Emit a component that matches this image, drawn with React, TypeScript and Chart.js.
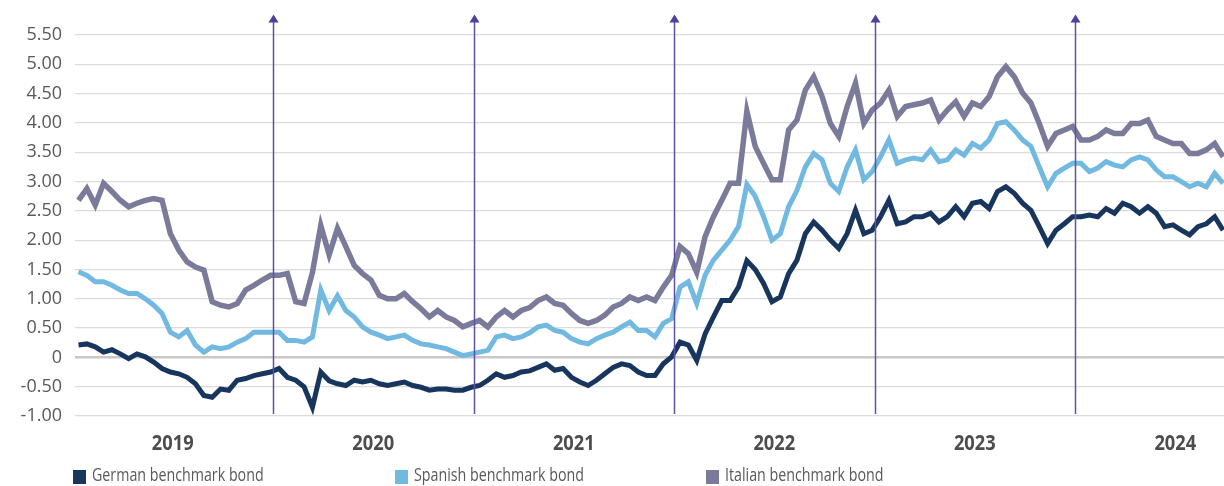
import React, { useEffect, useRef } from 'react';
import { Chart, registerables } from 'chart.js';

Chart.register(...registerables);

// Sampling: semi-monthly observations starting mid-January 2019 (decimal years)
const START_YEAR = 2019.03;
const STEP_YEARS = 1 / 24;
const X_MIN = 2019.0125;
const X_MAX = 2024.743;

const YEAR_LABELS = [2019, 2020, 2021, 2022, 2023, 2024];
const MARKER_YEARS = [2020, 2021, 2022, 2023, 2024];

const SERIES_NAMES = ['German benchmark bond', 'Spanish benchmark bond', 'Italian benchmark bond'];
const SERIES_COLORS = ['#18355e', '#72b9e1', '#7a7b9b'];
const SERIES_WIDTHS = [5, 5, 5.5];

const german = [
  0.21, 0.23, 0.18, 0.09, 0.13, 0.06, -0.02, 0.06, 0.01, -0.08,
  -0.19, -0.25, -0.28, -0.34, -0.45, -0.65, -0.68, -0.54, -0.56, -0.39,
  -0.36, -0.31, -0.28, -0.25, -0.19, -0.34, -0.39, -0.5, -0.85, -0.25,
  -0.4, -0.45, -0.48, -0.39, -0.42, -0.39, -0.45, -0.48, -0.45, -0.42,
  -0.48, -0.51, -0.56, -0.54, -0.54, -0.56, -0.56, -0.51, -0.48, -0.39,
  -0.28, -0.34, -0.31, -0.25, -0.23, -0.17, -0.11, -0.22, -0.19, -0.34,
  -0.42, -0.48, -0.39, -0.28, -0.17, -0.11, -0.14, -0.25, -0.31, -0.31,
  -0.11, 0.01, 0.26, 0.21, -0.05, 0.4, 0.69, 0.97, 0.97, 1.2,
  1.65, 1.5, 1.26, 0.95, 1.03, 1.43, 1.66, 2.11, 2.31, 2.17,
  2.0, 1.86, 2.11, 2.51, 2.11, 2.17, 2.4, 2.68, 2.28, 2.31,
  2.4, 2.4, 2.46, 2.31, 2.4, 2.57, 2.4, 2.63, 2.66, 2.54,
  2.83, 2.91, 2.8, 2.63, 2.51, 2.23, 1.94, 2.17, 2.28, 2.4,
  2.4, 2.43, 2.4, 2.54, 2.46, 2.63, 2.57, 2.46, 2.57, 2.46,
  2.23, 2.26, 2.17, 2.09, 2.23, 2.28, 2.4, 2.17,
];

const spanish = [
  1.46, 1.4, 1.29, 1.29, 1.23, 1.15, 1.09, 1.09, 1.0, 0.89,
  0.75, 0.43, 0.35, 0.46, 0.21, 0.09, 0.18, 0.15, 0.18, 0.26,
  0.32, 0.43, 0.43, 0.43, 0.43, 0.29, 0.29, 0.26, 0.35, 1.15,
  0.8, 1.05, 0.8, 0.69, 0.52, 0.43, 0.38, 0.32, 0.35, 0.38,
  0.29, 0.23, 0.21, 0.18, 0.15, 0.09, 0.03, 0.06, 0.09, 0.12,
  0.35, 0.38, 0.32, 0.35, 0.42, 0.52, 0.55, 0.46, 0.43, 0.32,
  0.26, 0.23, 0.32, 0.38, 0.43, 0.52, 0.6, 0.46, 0.46, 0.35,
  0.58, 0.66, 1.2, 1.29, 0.92, 1.4, 1.66, 1.83, 2.0, 2.23,
  2.95, 2.75, 2.4, 2.0, 2.11, 2.57, 2.85, 3.25, 3.48, 3.37,
  2.97, 2.83, 3.25, 3.54, 3.03, 3.17, 3.42, 3.71, 3.31, 3.37,
  3.4, 3.37, 3.54, 3.34, 3.37, 3.54, 3.45, 3.65, 3.57, 3.71,
  3.99, 4.02, 3.88, 3.71, 3.6, 3.25, 2.91, 3.14, 3.23, 3.31,
  3.31, 3.17, 3.23, 3.34, 3.28, 3.25, 3.37, 3.42, 3.37, 3.2,
  3.08, 3.08, 3.0, 2.91, 2.97, 2.91, 3.14, 2.97,
];

const italian = [
  2.68, 2.88, 2.6, 2.97, 2.83, 2.68, 2.57, 2.63, 2.68, 2.71,
  2.68, 2.11, 1.83, 1.63, 1.54, 1.49, 0.95, 0.89, 0.86, 0.92,
  1.15, 1.23, 1.32, 1.4, 1.4, 1.43, 0.95, 0.92, 1.45, 2.25,
  1.75, 2.2, 1.89, 1.57, 1.43, 1.32, 1.06, 1.0, 1.0, 1.09,
  0.95, 0.83, 0.69, 0.8, 0.69, 0.63, 0.52, 0.58, 0.63, 0.52,
  0.69, 0.8, 0.69, 0.8, 0.85, 0.97, 1.03, 0.92, 0.89, 0.75,
  0.63, 0.58, 0.63, 0.72, 0.86, 0.92, 1.03, 0.97, 1.03, 0.97,
  1.2, 1.4, 1.89, 1.77, 1.45, 2.06, 2.4, 2.68, 2.97, 2.97,
  4.2, 3.6, 3.31, 3.03, 3.03, 3.88, 4.05, 4.56, 4.79, 4.45,
  3.99, 3.77, 4.28, 4.68, 3.99, 4.22, 4.34, 4.56, 4.11, 4.28,
  4.31, 4.34, 4.39, 4.05, 4.22, 4.36, 4.11, 4.34, 4.28, 4.45,
  4.79, 4.96, 4.79, 4.51, 4.34, 3.99, 3.6, 3.82, 3.88, 3.94,
  3.71, 3.71, 3.77, 3.88, 3.82, 3.82, 3.99, 3.99, 4.05, 3.77,
  3.71, 3.65, 3.65, 3.48, 3.48, 3.54, 3.65, 3.42,
];

const SERIES = [german, spanish, italian];

const TEXT_FONT = "'Open Sans', sans-serif";

// Draws text horizontally condensed (the original uses a condensed typeface)
function condensedText(ctx: any, text: string, x: number, y: number, ratio: number, align: string) {
  ctx.save();
  ctx.translate(x, y);
  ctx.scale(ratio, 1);
  ctx.textAlign = align;
  ctx.fillText(text, 0, 0);
  ctx.restore();
}

const arrowPlugin = {
  id: 'yearArrows',
  afterDatasetsDraw(chart: any) {
    const { ctx, chartArea, scales } = chart;
    const x = scales.x;
    ctx.save();
    ctx.strokeStyle = '#5d52a8';
    ctx.fillStyle = '#4b419e';
    ctx.lineWidth = 1.5;
    MARKER_YEARS.forEach((yr) => {
      const px = Math.round(x.getPixelForValue(yr)) + 0.5;
      const tip = chartArea.top - 20.5;
      ctx.beginPath();
      ctx.moveTo(px, chartArea.bottom - 2);
      ctx.lineTo(px, tip + 6);
      ctx.stroke();
      ctx.beginPath();
      ctx.moveTo(px, tip);
      ctx.lineTo(px - 5, tip + 8);
      ctx.lineTo(px + 5, tip + 8);
      ctx.closePath();
      ctx.fill();
    });
    ctx.restore();
  },
};

const yearLabelPlugin = {
  id: 'yearLabels',
  afterDraw(chart: any) {
    const { ctx, chartArea, scales } = chart;
    const x = scales.x;
    ctx.save();
    ctx.font = `bold 22px ${TEXT_FONT}`;
    ctx.fillStyle = '#4d4d4d';
    ctx.textBaseline = 'middle';
    YEAR_LABELS.forEach((yr) => {
      const px = x.getPixelForValue(yr + 0.5);
      condensedText(ctx, String(yr), px, chartArea.bottom + 28, 0.83, 'center');
    });
    ctx.restore();
  },
};

const legendPlugin = {
  id: 'bottomLegend',
  afterDraw(chart: any) {
    const { ctx, width } = chart;
    const fractions = [0.0596, 0.3227, 0.5768];
    ctx.save();
    ctx.font = `19px ${TEXT_FONT}`;
    ctx.textBaseline = 'middle';
    SERIES_NAMES.forEach((name, i) => {
      const x0 = Math.round(width * fractions[i]);
      ctx.fillStyle = SERIES_COLORS[i];
      ctx.fillRect(x0, 470, 13, 14);
      ctx.fillStyle = '#595959';
      condensedText(ctx, name, x0 + 19, 476, 0.75, 'left');
    });
    ctx.restore();
  },
};

export default function App() {
  const ref = useRef<HTMLCanvasElement>(null);

  useEffect(() => {
    if (!ref.current) return;
    const toPoints = (arr: number[]) => arr.map((v, i) => ({ x: START_YEAR + i * STEP_YEARS, y: v }));
    const chart = new Chart(ref.current, {
      type: 'line',
      data: {
        datasets: SERIES.map((s, i) => ({
          label: SERIES_NAMES[i],
          data: toPoints(s),
          borderColor: SERIES_COLORS[i],
          backgroundColor: SERIES_COLORS[i],
          borderWidth: SERIES_WIDTHS[i],
          pointRadius: 0,
          tension: 0,
          fill: false,
        })),
      },
      options: {
        animation: false,
        responsive: false,
        devicePixelRatio: 1,
        layout: { padding: { top: 35, left: 0, right: 0, bottom: 0 } },
        plugins: {
          legend: { display: false },
          tooltip: { enabled: false },
        },
        scales: {
          x: {
            type: 'linear',
            min: X_MIN,
            max: X_MAX,
            grid: { display: false, drawTicks: false },
            border: { display: false },
            afterBuildTicks: (scale: any) => {
              scale.ticks = YEAR_LABELS.map((y) => ({ value: y + 0.5 }));
            },
            afterFit: (scale: any) => {
              scale.height = 70;
            },
            ticks: { display: false },
          },
          y: {
            min: -1,
            max: 5.5,
            afterFit: (scale: any) => {
              scale.width = 75;
            },
            grid: {
              drawTicks: false,
              color: (c: any) => (c.tick && c.tick.value === 0 ? '#c8c8c8' : '#dcdcdc'),
              lineWidth: (c: any) => (c.tick && c.tick.value === 0 ? 2.5 : 1.3),
            },
            border: { display: false },
            ticks: {
              stepSize: 0.5,
              padding: 13,
              color: '#595959',
              font: { family: TEXT_FONT, size: 18 },
              callback: (v: any) => (Number(v) === 0 ? '0' : Number(v).toFixed(2)),
            },
          },
        },
      },
      plugins: [arrowPlugin, yearLabelPlugin, legendPlugin],
    });
    return () => chart.destroy();
  }, []);

  return (
    <div style={{ position: 'fixed', left: 0, top: 0, width: 1224, height: 486, background: '#fff' }}>
      <canvas ref={ref} width={1224} height={486} style={{ display: 'block', width: 1224, height: 486 }} />
    </div>
  );
}
